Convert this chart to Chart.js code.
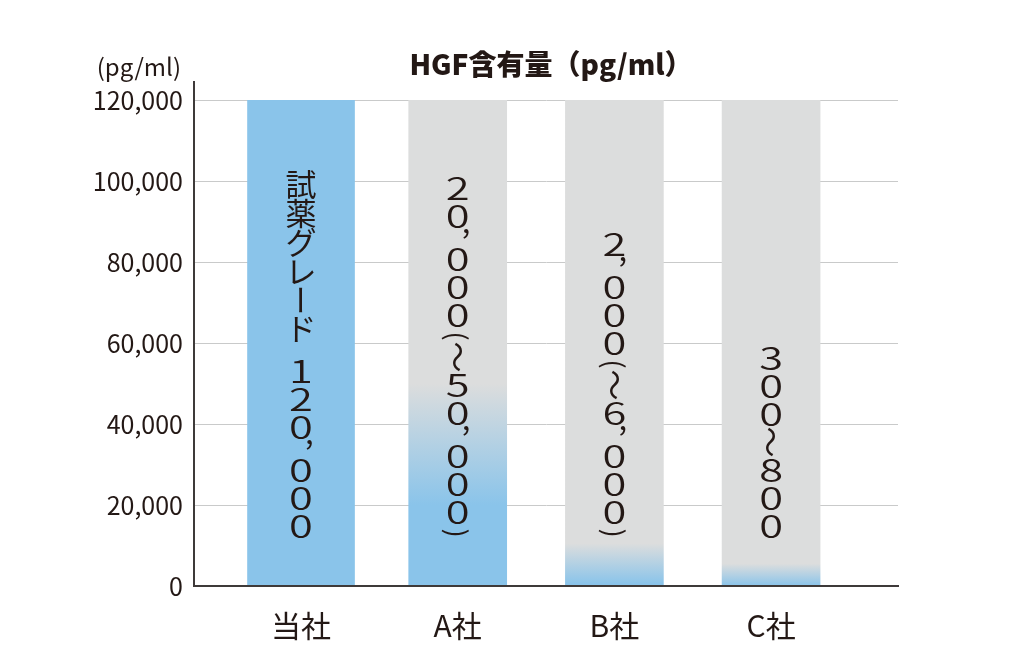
<!DOCTYPE html>
<html lang="ja">
<head>
    <meta charset="UTF-8">
    <title>HGF含有量</title>
    <script src="https://cdn.jsdelivr.net/npm/chart.js"></script>
    <style>
        html, body { margin: 0; padding: 0; background: #ffffff; }
        #wrap { width: 1024px; height: 661px; position: relative; }
    </style>
</head>
<body>
<div id="wrap"><canvas id="hgfChart"></canvas></div>

<script>
    // data
    const categories = ['当社', 'A社', 'B社', 'C社'];
    const barValues = [120000, 120000, 120000, 120000];
    const blueSolidTo = [120000, 20000, 500, 0];      // solid blue up to this value
    const grayFrom = [120000, 50000, 10500, 5500];     // fully gray from this value
    const barTexts = ['試薬グレード 120,000', '20,000（〜50,000）', '2,000（〜6,000）', '300〜800'];
    const yTicks = [0, 20000, 40000, 60000, 80000, 100000, 120000];
    const yTop = 124500;   // axis line runs a bit above the last tick

    const BLUE = '#8ac4ea';
    const GRAY = '#dcdddd';
    const INK = '#231815';
    const FONT = "'Noto Sans CJK JP', 'Noto Sans', sans-serif";

    function barFill(ctx) {
        const chart = ctx.chart;
        const i = ctx.raw ? ctx.raw.x : 0;
        if (blueSolidTo[i] >= grayFrom[i]) return BLUE;
        if (!chart.chartArea) return GRAY;
        const y = chart.scales.y;
        const y0 = y.getPixelForValue(blueSolidTo[i]);
        const y1 = y.getPixelForValue(grayFrom[i]);
        const g = chart.ctx.createLinearGradient(0, y0, 0, y1);
        g.addColorStop(0, BLUE);
        g.addColorStop(1, GRAY);
        return g;
    }

    // vertical (tategaki) text inside each bar
    function cellOf(ch) {
        if (ch === ',') return {adv: 15, kind: 'comma'};
        if (ch === '（' || ch === '）') return {adv: 14, kind: 'paren'};
        if (ch === ' ') return {adv: 14, kind: 'space'};
        if (ch === 'ー' || ch === '〜') return {adv: 28, kind: 'rot'};
        if (/[0-9]/.test(ch)) return {adv: 28, kind: 'digit'};
        return {adv: 29, kind: 'up'};
    }

    const verticalText = {
        id: 'verticalText',
        afterDatasetsDraw(chart) {
            const c = chart.ctx;
            const xs = chart.scales.x, ys = chart.scales.y;
            c.save();
            c.fillStyle = INK;
            barTexts.forEach((text, i) => {
                const x = xs.getPixelForValue(i);
                const cells = [...text].map(ch => Object.assign({ch}, cellOf(ch)));
                const total = cells.reduce((s, cl) => s + cl.adv, 0);
                let y = ys.getPixelForValue(0) - 46 - total;
                cells.forEach(cl => {
                    if (cl.kind === 'up' || cl.kind === 'digit') {
                        c.save();
                        c.translate(x, y + cl.adv / 2);
                        if (cl.kind === 'digit') c.scale(1.4, 1);
                        c.font = (cl.kind === 'digit' ? '350 31px ' : '400 31px ') + FONT;
                        c.textAlign = 'center';
                        c.textBaseline = 'middle';
                        c.fillText(cl.ch, 0, 0);
                        c.restore();
                    } else if (cl.kind === 'comma') {
                        c.font = '400 31px ' + FONT;
                        c.textAlign = 'left';
                        c.textBaseline = 'alphabetic';
                        c.fillText(',', x + 4, y + 3);
                    } else if (cl.kind === 'paren' || cl.kind === 'rot') {
                        const ch = cl.ch === '（' ? '(' : cl.ch === '）' ? ')' : cl.ch;
                        c.save();
                        c.translate(x, y + cl.adv / 2);
                        c.rotate(Math.PI / 2);
                        c.font = (cl.kind === 'paren' ? '400 27px ' : '400 31px ') + FONT;
                        c.textAlign = 'center';
                        c.textBaseline = 'middle';
                        c.fillText(ch, 0, 0);
                        c.restore();
                    }
                    y += cl.adv;
                });
            });
            c.restore();
        },
        afterDraw(chart) {
            const c = chart.ctx;
            const area = chart.chartArea;
            c.save();
            c.fillStyle = INK;
            c.textBaseline = 'middle';
            c.textAlign = 'right';
            c.font = '400 24px ' + FONT;
            c.fillText('(pg/ml)', area.left - 13, 67);
            c.textAlign = 'center';
            c.font = '900 28px ' + FONT;
            c.fillText('HGF含有量（pg/ml）', (area.left + area.right) / 2 + 5, 64);
            c.restore();
        }
    };

    new Chart(document.getElementById('hgfChart'), {
        type: 'bar',
        data: {
            datasets: [
                {
                    data: [{x: 0, y: barValues[0]}],
                    backgroundColor: barFill,
                    barThickness: 107,
                    grouped: false
                },
                {
                    data: [1, 2, 3].map(i => ({x: i, y: barValues[i]})),
                    backgroundColor: barFill,
                    barThickness: 98,
                    grouped: false
                }
            ]
        },
        options: {
            responsive: true,
            maintainAspectRatio: false,
            animation: false,
            layout: {padding: {left: 0, right: 126, top: 82, bottom: 0}},
            plugins: {legend: {display: false}, tooltip: {enabled: false}},
            scales: {
                x: {
                    type: 'linear',
                    min: -0.683,
                    max: 3.81,
                    offset: false,
                    grid: {display: false, drawTicks: false, offset: false},
                    border: {display: true, color: '#3e3a39', width: 2, z: 1},
                    ticks: {
                        stepSize: 1,
                        includeBounds: false,
                        autoSkip: false,
                        maxRotation: 0,
                        padding: 22,
                        color: INK,
                        font: {family: FONT, size: 30},
                        callback: v => Number.isInteger(v) && categories[v] ? categories[v] : ''
                    },
                    afterFit: s => { s.height = 75; }
                },
                y: {
                    min: 0,
                    max: yTop,
                    afterBuildTicks: s => { s.ticks = yTicks.map(v => ({value: v})); },
                    grid: {
                        color: ctx => ctx.tick && ctx.tick.value === 0 ? 'rgba(0,0,0,0)' : '#c9caca',
                        lineWidth: 1,
                        drawTicks: false
                    },
                    border: {display: true, color: '#3e3a39', width: 2, z: 1},
                    ticks: {
                        padding: 11,
                        color: INK,
                        font: {family: FONT, size: 25},
                        callback: v => v.toLocaleString('en-US')
                    },
                    afterFit: s => { s.width = 194; }
                }
            }
        },
        plugins: [verticalText]
    });
</script>
</body>
</html>
